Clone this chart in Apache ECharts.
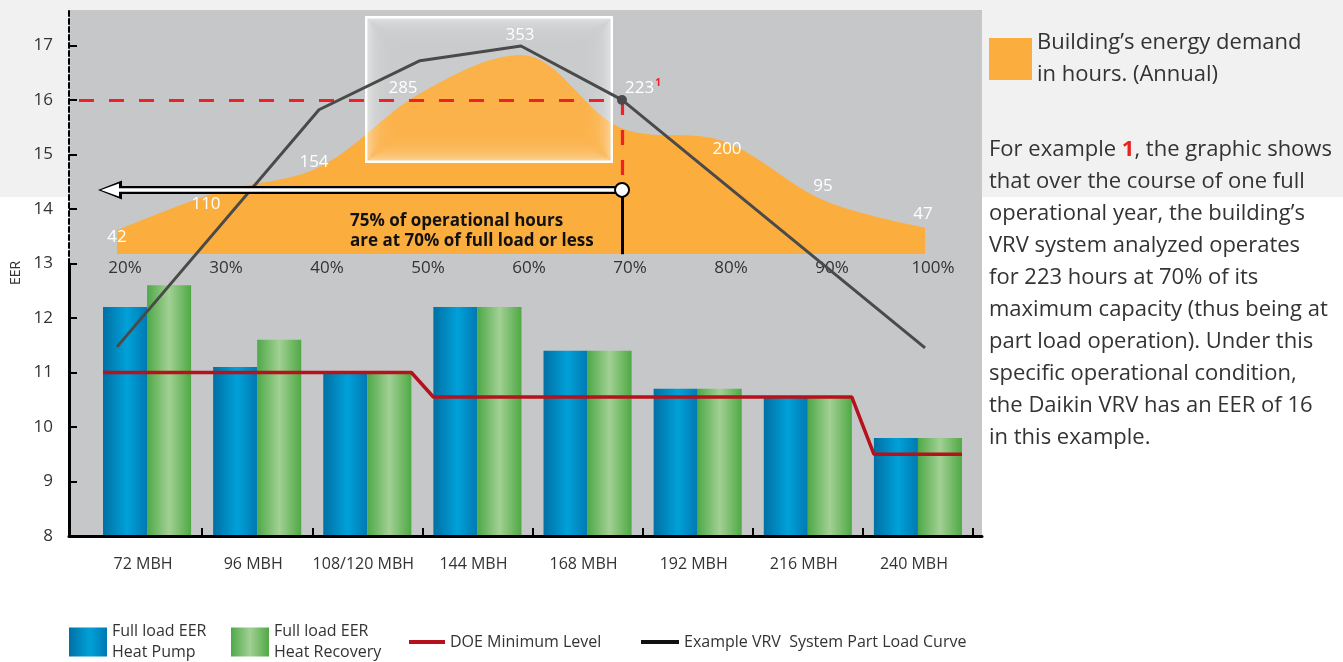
<!DOCTYPE html>
<html>
<head>
<meta charset="utf-8">
<script src="https://cdn.jsdelivr.net/npm/echarts@6/dist/echarts.min.js"></script>
<style>
html,body{margin:0;padding:0;background:#fff;}
#chart{width:1343px;height:662px;background:linear-gradient(to bottom,#f1f1f1 0px,#f1f1f1 197px,#ffffff 197px,#ffffff 100%);}
</style>
</head>
<body>
<div id="chart"></div>
<script>
// ---------------- data ----------------
const categories = ['72 MBH', '96 MBH', '108/120 MBH', '144 MBH', '168 MBH', '192 MBH', '216 MBH', '240 MBH'];
const heatPumpEER = [12.2, 11.1, 11.0, 12.2, 11.4, 10.7, 10.55, 9.8];
const heatRecoveryEER = [12.6, 11.6, 11.0, 12.2, 11.4, 10.7, 10.55, 9.8];
const doeMinimum = [11.0, 11.0, 11.0, 10.55, 10.55, 10.55, 10.55, 9.5];

const loadLabels = ['20%', '30%', '40%', '50%', '60%', '70%', '80%', '90%', '100%'];
const demandHours = [42, 110, 154, 285, 353, 223, 200, 95, 47];

const partLoadPct = [20, 40, 50, 60, 70, 100];
const partLoadEER = [11.47, 15.82, 16.72, 16.99, 16.0, 11.45];

const eerTicks = [8, 9, 10, 11, 12, 13, 14, 15, 16, 17];

// example annotation (in data units)
const exampleLoad = 70;       // % load
const exampleEER = 16;        // EER at that load
const arrowEER = 14.35;       // level of the "75% of hours" arrow
const arrowEndLoad = 19.31;   // arrow head position (% load)
const dashStartLoad = 16.24;  // start of horizontal dashed line
const stemEndEER = 13.17;     // bottom of black stem (area baseline)

const hpName = 'Full load EER Heat Pump';
const hrName = 'Full load EER Heat Recovery';
const doeName = 'DOE Minimum Level';
const vrvName = 'Example VRV  System Part Load Curve';
const areaName = 'Building’s energy demand in hours. (Annual)';

// label nudges (style only, px) for the hour labels
const hourLabelOffsets = [[0, 15], [-12, 21], [-5, 3], [-17, 3], [-1, -11], [21, -31], [4, 16], [-1, -6], [-2, -5]];

// ---------------- derived ----------------
const halfGroup = 0.4;
const doePts = [];
for (let i = 0; i < doeMinimum.length;) {
  let j = i;
  while (j + 1 < doeMinimum.length && doeMinimum[j + 1] === doeMinimum[i]) j++;
  doePts.push([i - halfGroup, doeMinimum[i]], [j + halfGroup, doeMinimum[i]]);
  i = j + 1;
}
const vrvData = partLoadPct.map((x, i) => [x, partLoadEER[i]]);
const exampleIndex = partLoadPct.indexOf(exampleLoad);
const exampleHourIndex = loadLabels.indexOf(exampleLoad + '%');

const FONT = '"Open Sans", "Noto Sans", sans-serif';
const TXT = '#333333';

const blueGrad = new echarts.graphic.LinearGradient(0, 0, 1, 0, [
  {offset: 0, color: '#0070a4'}, {offset: 0.55, color: '#00a1d9'}, {offset: 1, color: '#0079b2'}
]);
const greenGrad = new echarts.graphic.LinearGradient(0, 0, 1, 0, [
  {offset: 0, color: '#4ea948'}, {offset: 0.5, color: '#a2d094'}, {offset: 1, color: '#4fa944'}
]);

const blackHead = 'path://M0,0M24,24M12,0L21.5,24L2.5,24Z';
const whiteHead = 'path://M0,0M18,18M9,0L15.5,18L2.5,18Z';

// glow box decoration
const glow = [];
const gb = {x: 365, y: 16, w: 248, h: 147};
glow.push({type: 'rect', z: 3, silent: true, shape: {x: gb.x, y: gb.y, width: gb.w, height: gb.h}, style: {fill: 'rgba(255,255,255,0.07)'}});
for (let i = 0; i < 22; i++) {
  const inset = 1.2 + i * 1.2;
  glow.push({
    type: 'rect', z: 3, silent: true,
    shape: {x: gb.x + inset, y: gb.y + inset, width: gb.w - 2 * inset, height: gb.h - 2 * inset, r: Math.min(i * 0.9, 14)},
    style: {fill: null, stroke: 'rgba(255,255,255,' + (i === 0 ? 1 : 0.42 * Math.pow(0.87, i)).toFixed(3) + ')', lineWidth: i === 0 ? 2.4 : 1.5}
  });
}

const paragraph = [
  'For example {r|1}, the graphic shows',
  'that over the course of one full',
  'operational year, the building’s',
  'VRV system analyzed operates',
  'for 223 hours at 70% of its',
  'maximum capacity (thus being at',
  'part load operation). Under this',
  'specific operational condition,',
  'the Daikin VRV has an EER of 16',
  'in this example.'
].join('\n');

const hidden = {show: false};
const legendBase = {padding: 0, selectedMode: false, orient: 'horizontal',
  textStyle: {fontFamily: FONT, fontSize: 16, lineHeight: 21, color: TXT}};

const option = {
  animation: false,
  textStyle: {fontFamily: FONT},
  grid: [
    {left: 69, right: 361, top: 10, bottom: 126, show: true, backgroundColor: '#c6c7c9', borderWidth: 0},
    {left: 92, right: 370, top: 10, bottom: 126},
    {left: 117, right: 418, top: 10, bottom: 408},
    {left: 69, right: 361, top: 10, bottom: 126},
    {left: 69, right: 361, top: 10, bottom: 398},
    {left: 69, right: 361, top: 264, bottom: 126}
  ],
  xAxis: [
    {gridIndex: 0, type: 'value', min: 0, max: 1, z: 5,
      axisLine: {show: true, lineStyle: {color: '#000', width: 3}},
      axisTick: hidden, axisLabel: hidden, splitLine: hidden},
    {gridIndex: 1, type: 'category', data: categories, z: 5,
      axisLine: hidden,
      axisTick: {show: true, inside: true, length: 8, interval: (i) => i > 0, lineStyle: {color: '#000', width: 2}},
      axisLabel: {interval: 0, fontSize: 16, color: TXT, margin: 20, padding: [0, 8, 0, 0], fontFamily: FONT}},
    {gridIndex: 1, type: 'value', min: -0.5, max: 7.5, show: false},
    {gridIndex: 2, type: 'category', data: loadLabels, boundaryGap: false,
      axisLine: hidden, axisTick: hidden,
      axisLabel: {interval: 0, fontSize: 17, color: TXT, margin: 6, padding: [0, 0, 0, 16], fontFamily: FONT}},
    {gridIndex: 3, type: 'value', min: 15.25, max: 105.64, show: false},
    {gridIndex: 4, type: 'value', show: false},
    {gridIndex: 5, type: 'value', show: false}
  ],
  yAxis: [
    {gridIndex: 0, type: 'value', min: 8, max: 17.65,
      name: 'EER', nameLocation: 'middle', nameRotate: 90, nameGap: 46,
      nameTextStyle: {fontSize: 14, color: TXT, fontFamily: FONT},
      axisLine: hidden,
      axisTick: {show: true, inside: true, length: 8, customValues: eerTicks, lineStyle: {color: '#000', width: 2}},
      axisLabel: {customValues: eerTicks, fontSize: 17, color: TXT, margin: 16, fontFamily: FONT},
      splitLine: hidden},
    {gridIndex: 1, type: 'value', min: 8, max: 17.65, show: false},
    {gridIndex: 2, type: 'value', min: 0, max: 433, show: false},
    {gridIndex: 3, type: 'value', min: 8, max: 17.65, show: false},
    {gridIndex: 4, type: 'value', axisLine: {show: true, lineStyle: {color: '#000', width: 2, type: [5, 3]}},
      axisTick: hidden, axisLabel: hidden, splitLine: hidden},
    {gridIndex: 5, type: 'value', axisLine: {show: true, lineStyle: {color: '#000', width: 3}},
      axisTick: hidden, axisLabel: hidden, splitLine: hidden}
  ],
  legend: [
    Object.assign({}, legendBase, {left: 989, top: 25, itemWidth: 43, itemHeight: 42,
      data: [{name: areaName, icon: 'rect', itemStyle: {color: '#fbad3d', borderWidth: 0}}],
      formatter: (n) => n.replace('demand ', 'demand\n'),
      textStyle: {fontFamily: FONT, fontSize: 22, lineHeight: 32, color: TXT, padding: [4, 0, 0, 0]}}),
    Object.assign({}, legendBase, {left: 69, top: 621, itemWidth: 38, itemHeight: 29,
      data: [{name: hpName, icon: 'rect'}], formatter: (n) => n.replace('EER ', 'EER\n')}),
    Object.assign({}, legendBase, {left: 231, top: 621, itemWidth: 38, itemHeight: 29,
      data: [{name: hrName, icon: 'rect'}], formatter: (n) => n.replace('EER ', 'EER\n')}),
    Object.assign({}, legendBase, {left: 409, top: 631.5, itemWidth: 36, itemHeight: 4,
      data: [{name: doeName, icon: 'rect', itemStyle: {color: '#b5121b', borderWidth: 0}}]}),
    Object.assign({}, legendBase, {left: 641, top: 631.5, itemWidth: 38, itemHeight: 4,
      data: [{name: vrvName, icon: 'rect', itemStyle: {color: '#111111', borderWidth: 0}}]})
  ],
  graphic: [
    ...glow,
    {type: 'text', left: 350, top: 211, z: 6, silent: true,
      style: {text: '75% of operational hours\nare at 70% of full load or less', fontFamily: FONT,
        fontSize: 17, fontWeight: 'bold', lineHeight: 20, fill: '#111'}},
    {type: 'text', left: 989, top: 134, z: 6, silent: true,
      style: {text: paragraph, fontFamily: FONT, fontSize: 22, lineHeight: 32, fill: TXT,
        rich: {r: {fontFamily: FONT, fontSize: 22, fontWeight: 'bold', fill: '#e8231f', lineHeight: 32}}}}
  ],
  series: [
    {name: hpName, type: 'bar', xAxisIndex: 1, yAxisIndex: 1, data: heatPumpEER,
      barGap: '0%', barCategoryGap: '20%', itemStyle: {color: blueGrad}, z: 2},
    {name: hrName, type: 'bar', xAxisIndex: 1, yAxisIndex: 1, data: heatRecoveryEER,
      barGap: '0%', barCategoryGap: '20%', itemStyle: {color: greenGrad}, z: 2},
    {name: doeName, type: 'line', xAxisIndex: 2, yAxisIndex: 1, data: doePts, symbol: 'none',
      lineStyle: {color: '#b5121b', width: 3.5}, itemStyle: {color: '#b5121b'}, z: 3},
    {name: areaName, type: 'line', xAxisIndex: 3, yAxisIndex: 2, smooth: 0.35,
      data: demandHours.map((v, i) => ({value: v, label: {offset: hourLabelOffsets[i]}})),
      symbol: 'circle', symbolSize: 0, lineStyle: {width: 0}, itemStyle: {color: '#fbad3d'},
      areaStyle: {color: '#fbad3d', opacity: 1}, z: 2,
      label: {show: true, position: 'top', distance: 0, color: '#fff', fontSize: 17, fontFamily: FONT,
        formatter: (p) => p.dataIndex === exampleHourIndex ? '{v|' + p.value + '}{s|1}' : '{v|' + p.value + '}',
        rich: {v: {color: '#fff', fontSize: 17, fontFamily: FONT},
               s: {color: '#ee2028', fontSize: 10, fontWeight: 'bold', fontFamily: FONT, padding: [0, 0, 9, 1]}}}},
    {name: vrvName, type: 'line', xAxisIndex: 4, yAxisIndex: 3, data: vrvData,
      symbol: 'circle', symbolSize: (v, p) => p.dataIndex === exampleIndex ? 10 : 0,
      lineStyle: {color: '#4a4a4a', width: 3}, itemStyle: {color: '#4a4a4a'}, z: 4,
      markLine: {silent: true, z: 3, symbol: ['none', 'none'], label: {show: false},
        lineStyle: {color: '#ee2028', width: 3.2, type: [15, 15]},
        data: [
          [{coord: [dashStartLoad, exampleEER]}, {coord: [exampleLoad, exampleEER]}],
          [{coord: [exampleLoad, exampleEER]}, {coord: [exampleLoad, arrowEER + 0.13]}]
        ]}},
    {name: 'annotation', type: 'scatter', xAxisIndex: 4, yAxisIndex: 3, data: [[exampleLoad, arrowEER]],
      symbolSize: 14, itemStyle: {color: '#fff', borderColor: '#000', borderWidth: 2, opacity: 1}, z: 10,
      markLine: {silent: true, z: 9, symbol: ['none', 'none'], label: {show: false},
        data: [
          [{coord: [exampleLoad, arrowEER], lineStyle: {color: '#000', width: 3, type: 'solid'}},
           {coord: [exampleLoad, stemEndEER]}],
          [{coord: [exampleLoad, arrowEER], lineStyle: {color: '#000', width: 8, type: 'solid'}},
           {coord: [arrowEndLoad, arrowEER], symbol: blackHead, symbolSize: 24}],
          [{coord: [exampleLoad, arrowEER], lineStyle: {color: '#fff', width: 3.5, type: 'solid'}},
           {coord: [arrowEndLoad, arrowEER], symbol: whiteHead, symbolSize: 18}]
        ]}}
  ]
};

const chart = echarts.init(document.getElementById('chart'), null, {renderer: 'canvas'});
chart.setOption(option);
</script>
</body>
</html>
